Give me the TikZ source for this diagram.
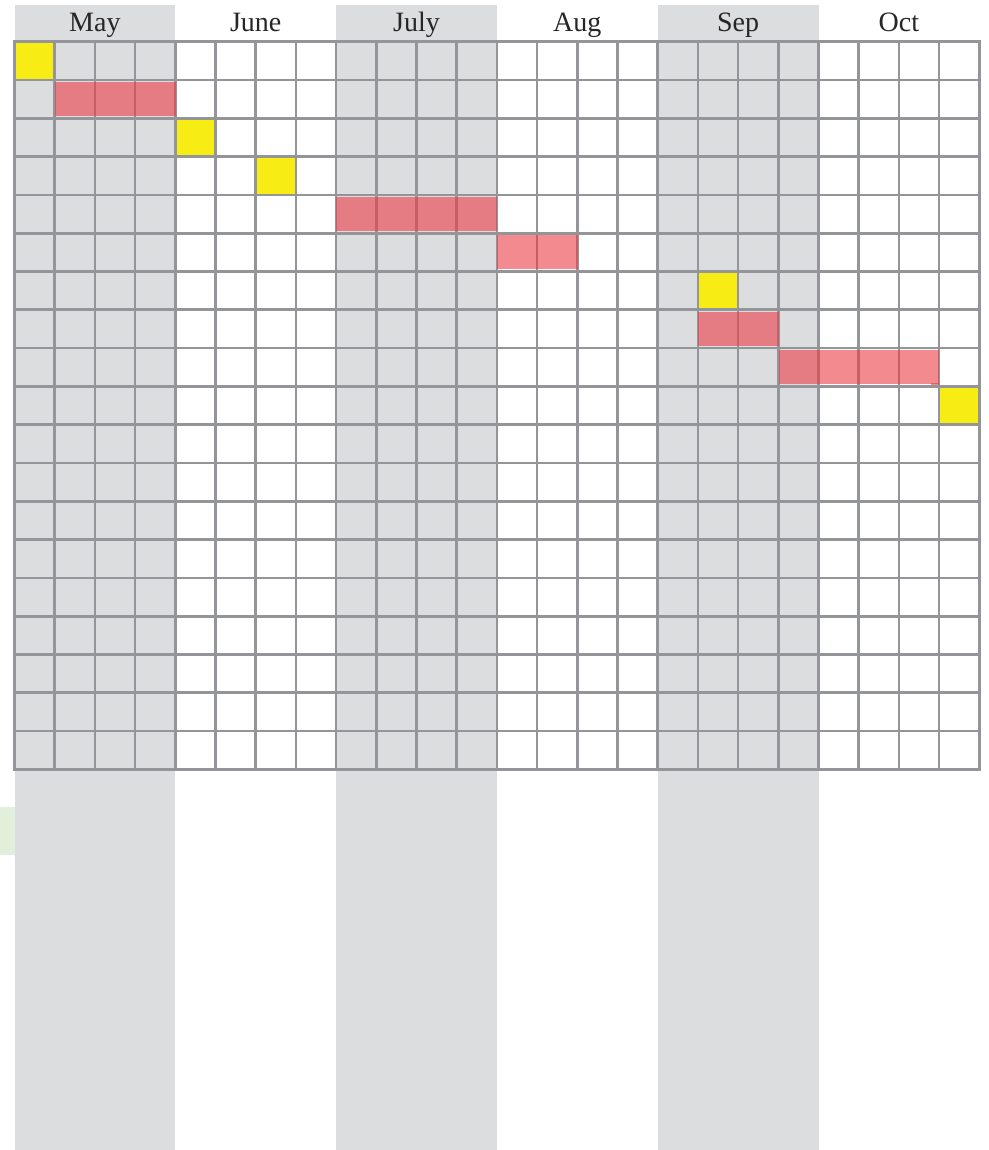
\documentclass[tikz,border=0pt]{standalone}
\usepackage{fontspec}
\setmainfont{Liberation Serif}
\definecolor{bandgray}{RGB}{220,221,223}
\definecolor{gridgray}{RGB}{147,149,152}
\definecolor{yel}{RGB}{247,236,19}
\definecolor{barred}{RGB}{235,60,70}
\definecolor{palegreen}{RGB}{226,239,218}
\begin{document}
\begin{tikzpicture}[x=1pt,y=-1pt,
  band/.style={fill=bandgray},
  gridline/.style={draw=gridgray,line width=2.7pt,line cap=rect},
  yelcell/.style={fill=yel},
  bar/.style={fill=barred,fill opacity=0.6,draw=none,inner sep=0pt,anchor=north west,minimum height=34.3pt},
  month/.style={font=\fontsize{28}{32}\selectfont,text=black!85,anchor=base,inner sep=0pt}]
\def\cw{40.2}\def\rh{38.3}\def\gx{14.5}\def\gy{41.7}
\useasboundingbox (0,0) rectangle (988,1150);
\fill[white] (0,0) rectangle (988,1150);
% gray month bands
\foreach \m in {0,2,4}{
  \fill[band] (\gx+\m*4*\cw,5) rectangle (\gx+\m*4*\cw+4*\cw,1150);
}
% pale green tab
\fill[palegreen] (0,807) rectangle (\gx,855);
% month labels
\node[month] (may) at (\gx+2*\cw,32) {May};
\node[month] (june) at (\gx+6*\cw,32) {June};
\node[month] (july) at (\gx+10*\cw,32) {July};
\node[month] (aug) at (\gx+14*\cw,32) {Aug};
\node[month] (sep) at (\gx+18*\cw,32) {Sep};
\node[month] (oct) at (\gx+22*\cw,32) {Oct};
% yellow milestone cells (row, column)
\foreach \r/\c in {1/1,3/5,4/7,7/18,10/24}{
  \fill[yelcell] (\gx+\c*\cw-\cw,\gy+\r*\rh-\rh) rectangle (\gx+\c*\cw,\gy+\r*\rh);
}
% grid
\foreach \i in {0,...,19}{
  \draw[gridline] (\gx,\gy+\i*\rh) -- (\gx+24*\cw,\gy+\i*\rh);
}
\foreach \j in {0,...,24}{
  \draw[gridline] (\gx+\j*\cw,\gy) -- (\gx+\j*\cw,\gy+19*\rh);
}
% red bars
\node[bar,minimum width=3*\cw] (bar1) at (\gx+1*\cw,\gy+1*\rh+1.5) {};
\node[bar,minimum width=4*\cw] (bar2) at (\gx+8*\cw,\gy+4*\rh+1.5) {};
\node[bar,minimum width=2*\cw] (bar3) at (\gx+12*\cw,\gy+5*\rh+1.5) {};
\node[bar,minimum width=2*\cw] (bar4) at (\gx+17*\cw,\gy+7*\rh+1.5) {};
\node[bar,minimum width=4*\cw] (bar5) at (\gx+19*\cw,\gy+8*\rh+1.5) {};
\fill[barred,fill opacity=0.6] (\gx+23*\cw-8,\gy+9*\rh-3) rectangle (\gx+23*\cw,\gy+9*\rh-1.5);
\end{tikzpicture}
\end{document}
